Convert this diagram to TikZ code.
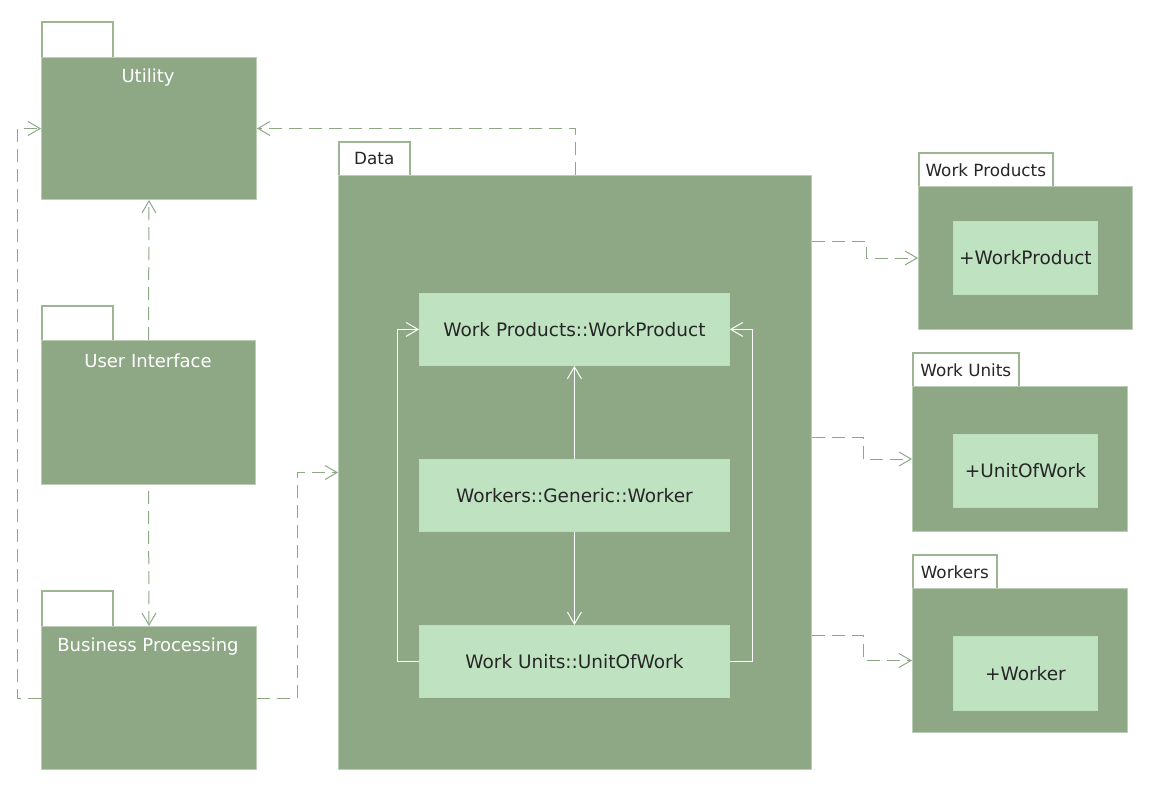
\documentclass[tikz,border=0pt]{standalone}
\usepackage{fontspec}
\setmainfont{DejaVu Sans}
\usetikzlibrary{arrows.meta,calc}
\definecolor{pkg}{HTML}{8EA886}
\definecolor{pkgline}{HTML}{BCCDB5}
\definecolor{tabline}{HTML}{9DB593}
\definecolor{inner}{HTML}{BFE3C1}
\definecolor{dep}{HTML}{8EA886}
\definecolor{txt}{HTML}{262626}
\newcommand\dgfont{\fontsize{18.5}{22}\selectfont}
\newcommand\tabfont{\fontsize{16.8}{20}\selectfont}
\newcommand\ttlfont{\fontsize{18}{21}\selectfont}
\begin{document}
\begin{tikzpicture}[x=1pt,y=-1pt,
  body/.style={draw=pkgline, fill=pkg, line width=1pt, anchor=north west, inner sep=0pt},
  tabbox/.style={draw=tabline, fill=white, line width=1.6pt, anchor=north west, inner sep=0pt, text=txt, font=\tabfont},
  cls/.style={fill=inner, draw=inner!92!pkg, line width=0.8pt, anchor=north west, inner sep=0pt, text=txt, font=\dgfont},
  title/.style={text=white, font=\ttlfont, inner sep=0pt},
  dep/.style={draw=dep, line width=1pt, dash pattern=on 13pt off 7pt, -{Straight Barb[length=12pt,width=14pt]}},
  wline/.style={draw=white, line width=1pt, -{Straight Barb[length=12pt,width=14pt]}}
]
\useasboundingbox (0,0) rectangle (1150,789);
% Utility
\node[tabbox, minimum width=71, minimum height=36] (utilTab) at (41,21) {};
\node[body, minimum width=215, minimum height=142] (util) at (41,57) {};
\node[title] (utilT) at (148,78) {Utility};
% User Interface
\node[tabbox, minimum width=71, minimum height=35] (uiTab) at (41,305) {};
\node[body, minimum width=214, minimum height=144] (ui) at (41,340) {};
\node[title] (uiT) at (148,361) {User Interface};
% Business Processing
\node[tabbox, minimum width=71, minimum height=36] (bpTab) at (41,590) {};
\node[body, minimum width=215, minimum height=143] (bp) at (41,626) {};
\node[title] (bpT) at (148,647) {Business Processing};
% Data
\node[tabbox, minimum width=71, minimum height=34] (dataTab) at (338,141) {Data};
\node[body, minimum width=473, minimum height=594] (data) at (338,175) {};
\node[cls, minimum width=310, minimum height=72] (wpc) at (419,293) {Work Products::WorkProduct};
\node[cls, minimum width=310, minimum height=72] (wg) at (419,459) {Workers::Generic::Worker};
\node[cls, minimum width=310, minimum height=72] (uow) at (419,625) {Work Units::UnitOfWork};
% Work Products
\node[tabbox, minimum width=134, minimum height=34] (wpTab) at (918,152) {Work Products};
\node[body, minimum width=214, minimum height=143] (wp) at (918,186) {};
\node[cls, minimum width=144, minimum height=73] (wpIn) at (953,221) {+WorkProduct};
% Work Units
\node[tabbox, minimum width=106, minimum height=34] (wuTab) at (912,352) {Work Units};
\node[body, minimum width=215, minimum height=145] (wu) at (912,386) {};
\node[cls, minimum width=144, minimum height=73] (wuIn) at (953,434) {+UnitOfWork};
% Workers
\node[tabbox, minimum width=84, minimum height=34] (wkTab) at (912,554) {Workers};
\node[body, minimum width=215, minimum height=144] (wk) at (912,588) {};
\node[cls, minimum width=144, minimum height=74] (wkIn) at (953,636) {+Worker};
% dependencies
\draw[dep] (ui.north) -- (util.south);
\draw[dep] ([yshift=-6pt]ui.south) -- (bp.north);
\draw[dep] (bp.west) -- ++(-24,0) |- (util.west);
\draw[dep] (bp.east) -- ++(40,0) |- (data.west);
\draw[dep] (data.north) |- (util.east);
\draw[dep] ($(data.north east)+(0,66)$) -- ++(54,0) |- (wp.west);
\draw[dep] ($(data.north east)+(0,262)$) -- ++(51,0) |- (wu.west);
\draw[dep] ($(data.north east)+(0,460)$) -- ++(51,0) |- (wk.west);
% inner relations
\draw[wline] (wg.north) -- (wpc.south);
\draw[wline] (wg.south) -- (uow.north);
\draw[wline] (uow.west) -- ++(-22,0) |- (wpc.west);
\draw[wline] (uow.east) -- ++(23,0) |- (wpc.east);
\end{tikzpicture}
\end{document}
